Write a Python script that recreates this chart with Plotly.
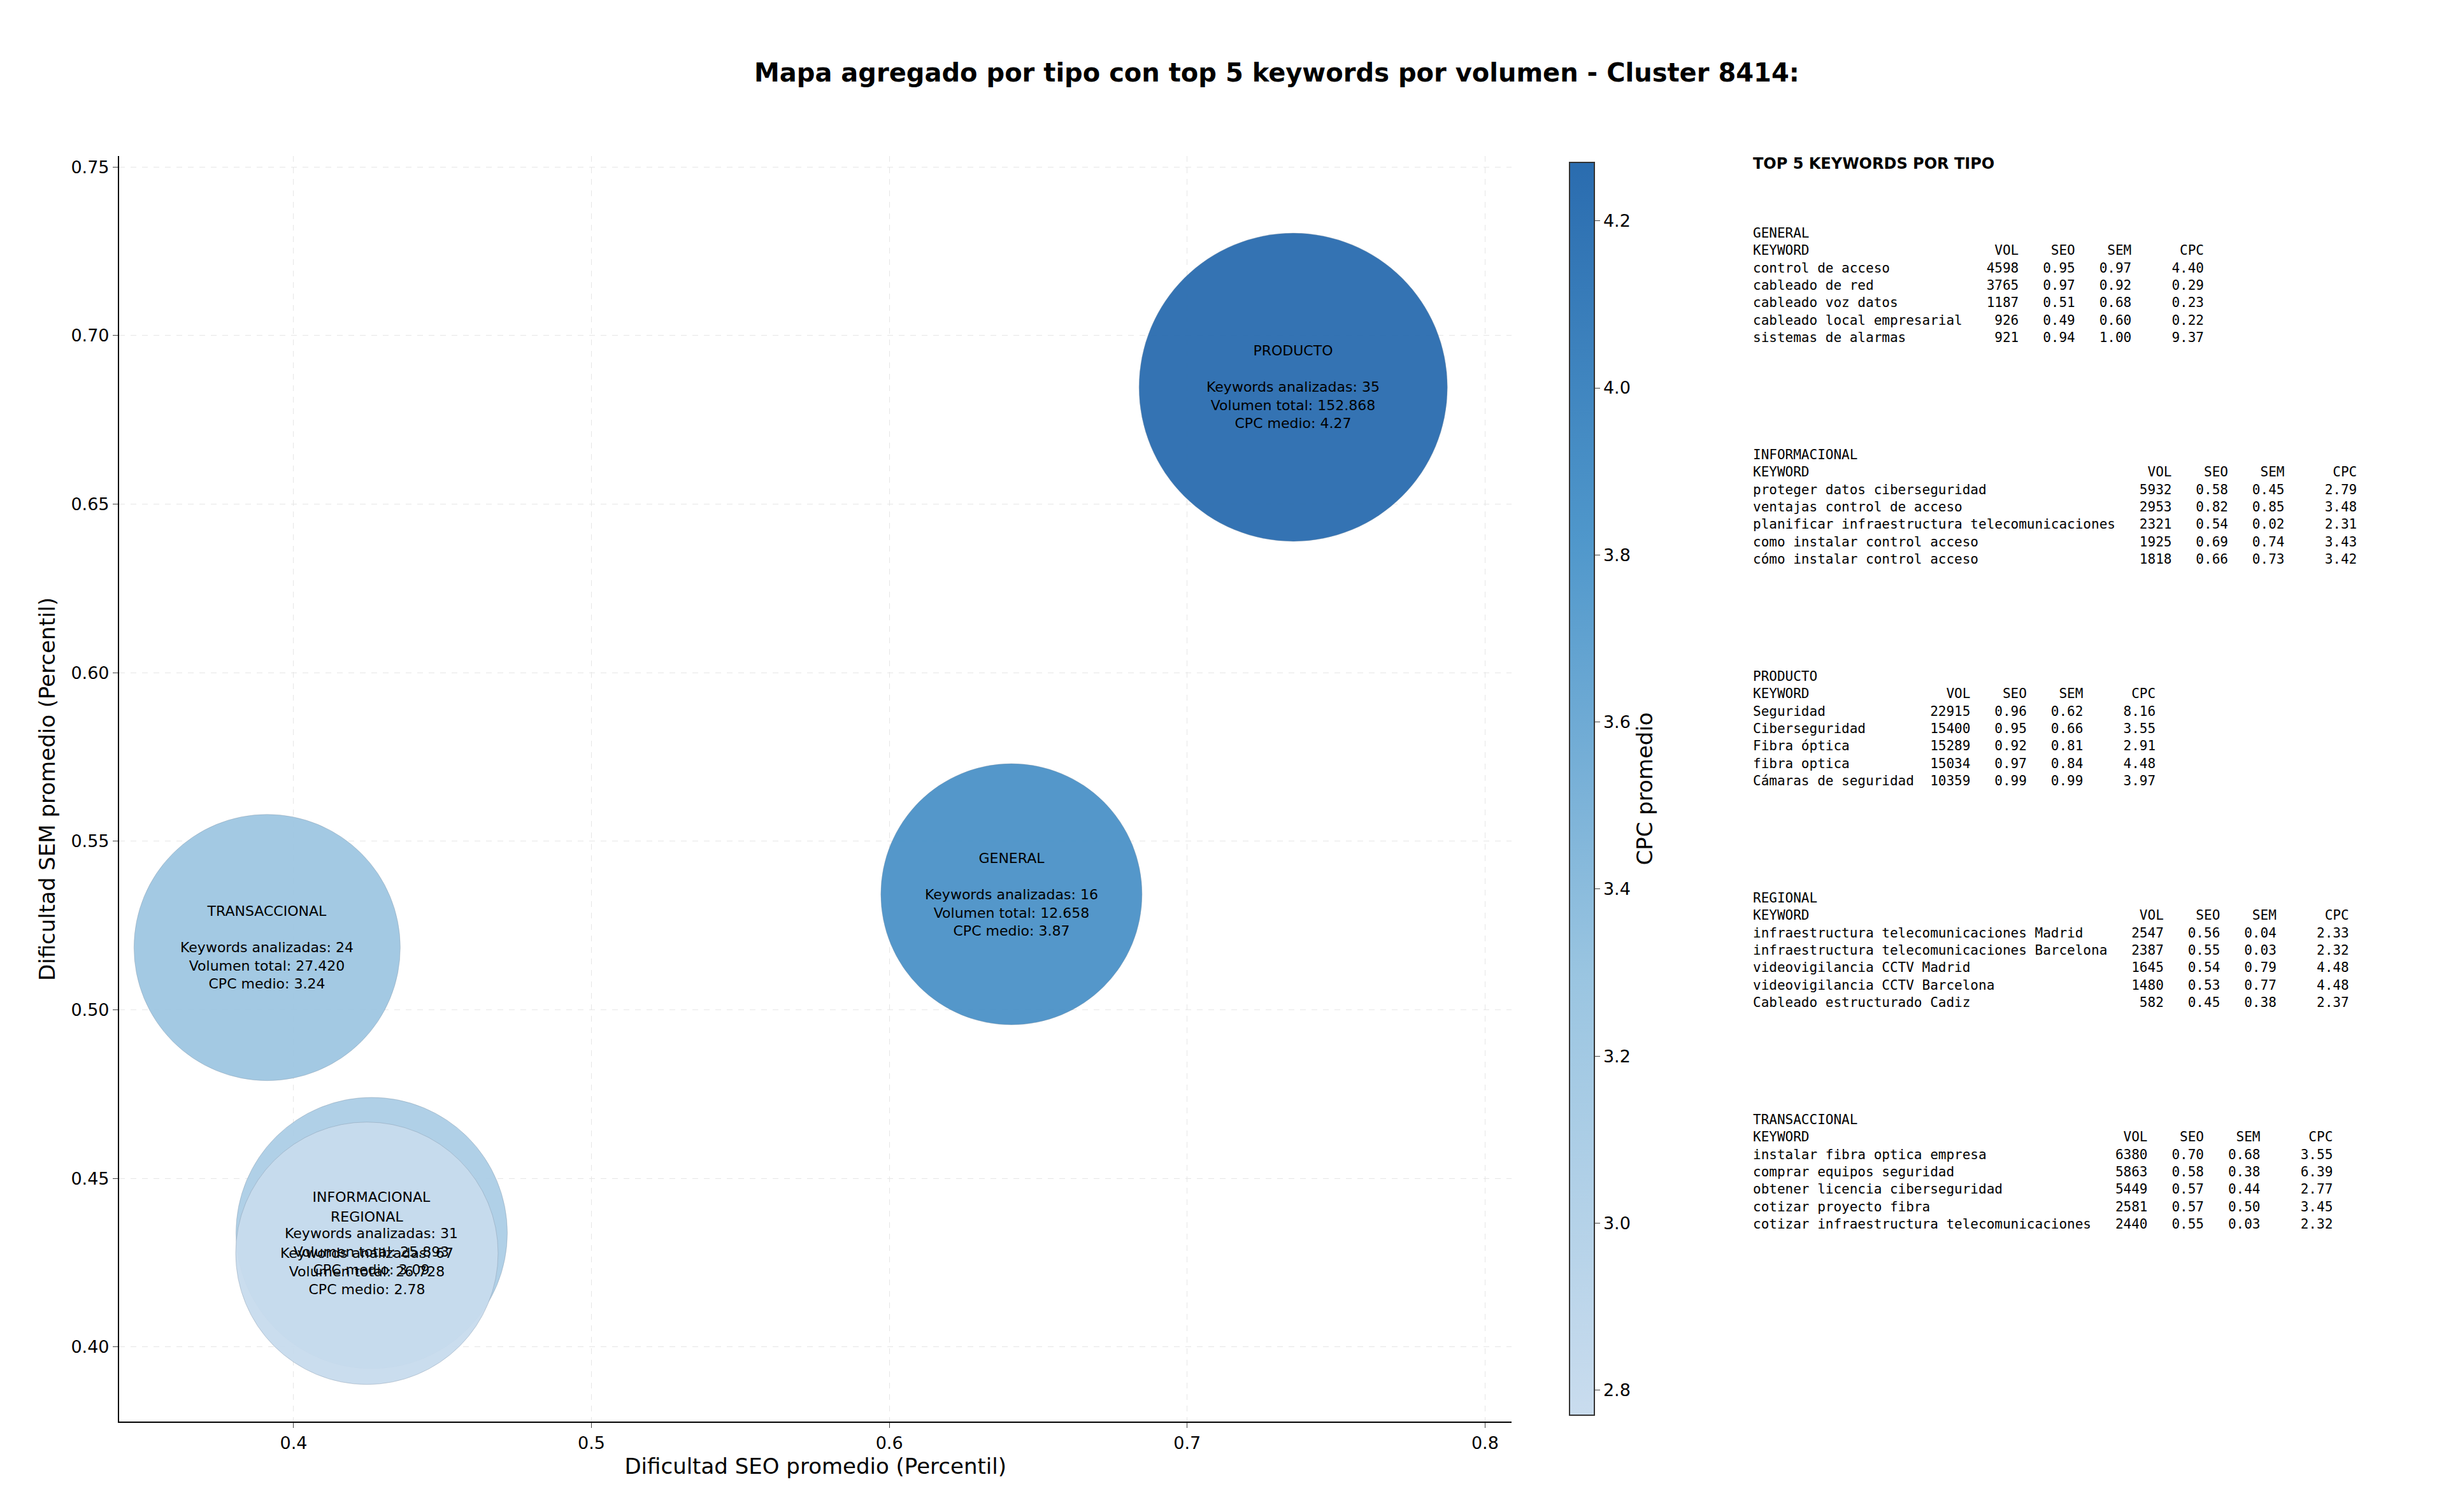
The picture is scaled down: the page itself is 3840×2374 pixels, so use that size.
import plotly.graph_objects as go

# aggregated bubbles per type
tipos = ["PRODUCTO", "GENERAL", "TRANSACCIONAL", "INFORMACIONAL", "REGIONAL"]
seo_medio = [0.7356, 0.641, 0.3911, 0.4262, 0.4246]
sem_medio = [0.6847, 0.5343, 0.5185, 0.4338, 0.4278]
n_keywords = [35, 16, 24, 31, 67]
volumen_total = ["152.868", "12.658", "27.420", "25.893", "26.728"]
cpc_medio = [4.27, 3.87, 3.24, 3.09, 2.78]
marker_px = [484, 410, 418, 426, 412]

# top 5 tables
top_general = [
    ("control de acceso", 4598, 0.95, 0.97, 4.40),
    ("cableado de red", 3765, 0.97, 0.92, 0.29),
    ("cableado voz datos", 1187, 0.51, 0.68, 0.23),
    ("cableado local empresarial", 926, 0.49, 0.60, 0.22),
    ("sistemas de alarmas", 921, 0.94, 1.00, 9.37),
]
top_informacional = [
    ("proteger datos ciberseguridad", 5932, 0.58, 0.45, 2.79),
    ("ventajas control de acceso", 2953, 0.82, 0.85, 3.48),
    ("planificar infraestructura telecomunicaciones", 2321, 0.54, 0.02, 2.31),
    ("como instalar control acceso", 1925, 0.69, 0.74, 3.43),
    ("cómo instalar control acceso", 1818, 0.66, 0.73, 3.42),
]
top_producto = [
    ("Seguridad", 22915, 0.96, 0.62, 8.16),
    ("Ciberseguridad", 15400, 0.95, 0.66, 3.55),
    ("Fibra óptica", 15289, 0.92, 0.81, 2.91),
    ("fibra optica", 15034, 0.97, 0.84, 4.48),
    ("Cámaras de seguridad", 10359, 0.99, 0.99, 3.97),
]
top_regional = [
    ("infraestructura telecomunicaciones Madrid", 2547, 0.56, 0.04, 2.33),
    ("infraestructura telecomunicaciones Barcelona", 2387, 0.55, 0.03, 2.32),
    ("videovigilancia CCTV Madrid", 1645, 0.54, 0.79, 4.48),
    ("videovigilancia CCTV Barcelona", 1480, 0.53, 0.77, 4.48),
    ("Cableado estructurado Cadiz", 582, 0.45, 0.38, 2.37),
]
top_transaccional = [
    ("instalar fibra optica empresa", 6380, 0.70, 0.68, 3.55),
    ("comprar equipos seguridad", 5863, 0.58, 0.38, 6.39),
    ("obtener licencia ciberseguridad", 5449, 0.57, 0.44, 2.77),
    ("cotizar proyecto fibra", 2581, 0.57, 0.50, 3.45),
    ("cotizar infraestructura telecomunicaciones", 2440, 0.55, 0.03, 2.32),
]
secciones = [
    ("GENERAL", top_general),
    ("INFORMACIONAL", top_informacional),
    ("PRODUCTO", top_producto),
    ("REGIONAL", top_regional),
    ("TRANSACCIONAL", top_transaccional),
]

W, H = 3840, 2374
blues = [[0, "#c9dcee"], [0.35, "#9ac5e1"], [0.7, "#4f97cb"], [1, "#2a6caf"]]

fig = go.Figure()
fig.add_trace(go.Scatter(
    x=seo_medio, y=sem_medio, mode="markers",
    marker=dict(
        size=marker_px, color=cpc_medio, colorscale=blues,
        cmin=2.77, cmax=4.27, opacity=0.95,
        line=dict(color="rgba(120,140,160,0.4)", width=1),
        colorbar=dict(
            x=0.637, xanchor="left", y=0.0632, yanchor="bottom",
            len=0.837, lenmode="fraction", thickness=39,
            outlinewidth=2, outlinecolor="#333",
            tickvals=[2.8, 3.0, 3.2, 3.4, 3.6, 3.8, 4.0, 4.2],
            ticktext=["2.8", "3.0", "3.2", "3.4", "3.6", "3.8", "4.0", "4.2"],
            ticks="outside", ticklen=8, tickfont=dict(size=27),
            title=dict(text="CPC promedio", side="right", font=dict(size=34)),
        ),
    ),
    showlegend=False, hoverinfo="skip",
))

for t, x, y, n, v, c in zip(tipos, seo_medio, sem_medio, n_keywords, volumen_total, cpc_medio):
    fig.add_annotation(
        x=x, y=y, xref="x", yref="y", showarrow=False,
        text=f"{t}<br><br>Keywords analizadas: {n}<br>Volumen total: {v}<br>CPC medio: {c:.2f}",
        font=dict(size=22, color="black"), align="center",
    )

NB = "\u00a0"
fig.add_annotation(
    x=0.714, y=0.902, xref="paper", yref="paper", xanchor="left", yanchor="top",
    showarrow=False, text="<b>TOP 5 KEYWORDS POR TIPO</b>",
    font=dict(size=24, family="DejaVu Sans", color="black"),
)
for i, (nombre, filas) in enumerate(secciones):
    L = max(len(r[0]) for r in filas) + 1
    lines = [nombre, f"{'KEYWORD':<{L}}{'VOL':>6}{'SEO':>7}{'SEM':>7}{'CPC':>9}"]
    for kw, vol, seo, sem, cpc in filas:
        lines.append(f"{kw:<{L}}{vol:>6}{seo:>7.2f}{sem:>7.2f}{cpc:>9.2f}")
    txt = "<br>".join(l.replace(" ", NB) for l in lines)
    fig.add_annotation(
        x=0.714, y=0.855 - i * 0.1466, xref="paper", yref="paper",
        xanchor="left", yanchor="top", showarrow=False, align="left",
        text=txt, font=dict(size=21, family="DejaVu Sans Mono", color="black"),
    )

fig.add_annotation(
    x=0.52, y=0.966, xref="paper", yref="paper", showarrow=False,
    text="<b>Mapa agregado por tipo con top 5 keywords por volumen - Cluster 8414:</b>",
    font=dict(size=40, color="black"),
)

axis_common = dict(
    showgrid=True, gridcolor="#e6e6e6", griddash="dash", gridwidth=1,
    showline=True, linecolor="black", linewidth=2, mirror=False,
    ticks="outside", ticklen=8, tickfont=dict(size=27), zeroline=False,
)
fig.update_xaxes(
    range=[0.3414, 0.809], domain=[0.0466, 0.616],
    tickvals=[0.4, 0.5, 0.6, 0.7, 0.8],
    title=dict(text="Dificultad SEO promedio (Percentil)", font=dict(size=34), standoff=10),
    **axis_common,
)
fig.update_yaxes(
    range=[0.3778, 0.7532], domain=[0.063, 0.9],
    tickvals=[0.40, 0.45, 0.50, 0.55, 0.60, 0.65, 0.70, 0.75],
    tickformat=".2f",
    title=dict(text="Dificultad SEM promedio (Percentil)", font=dict(size=34), standoff=15),
    **axis_common,
)
fig.update_layout(
    width=W, height=H, margin=dict(l=0, r=0, t=0, b=0),
    plot_bgcolor="white", paper_bgcolor="white",
    font=dict(family="DejaVu Sans", color="black"),
)

fig.write_html("out.html")
